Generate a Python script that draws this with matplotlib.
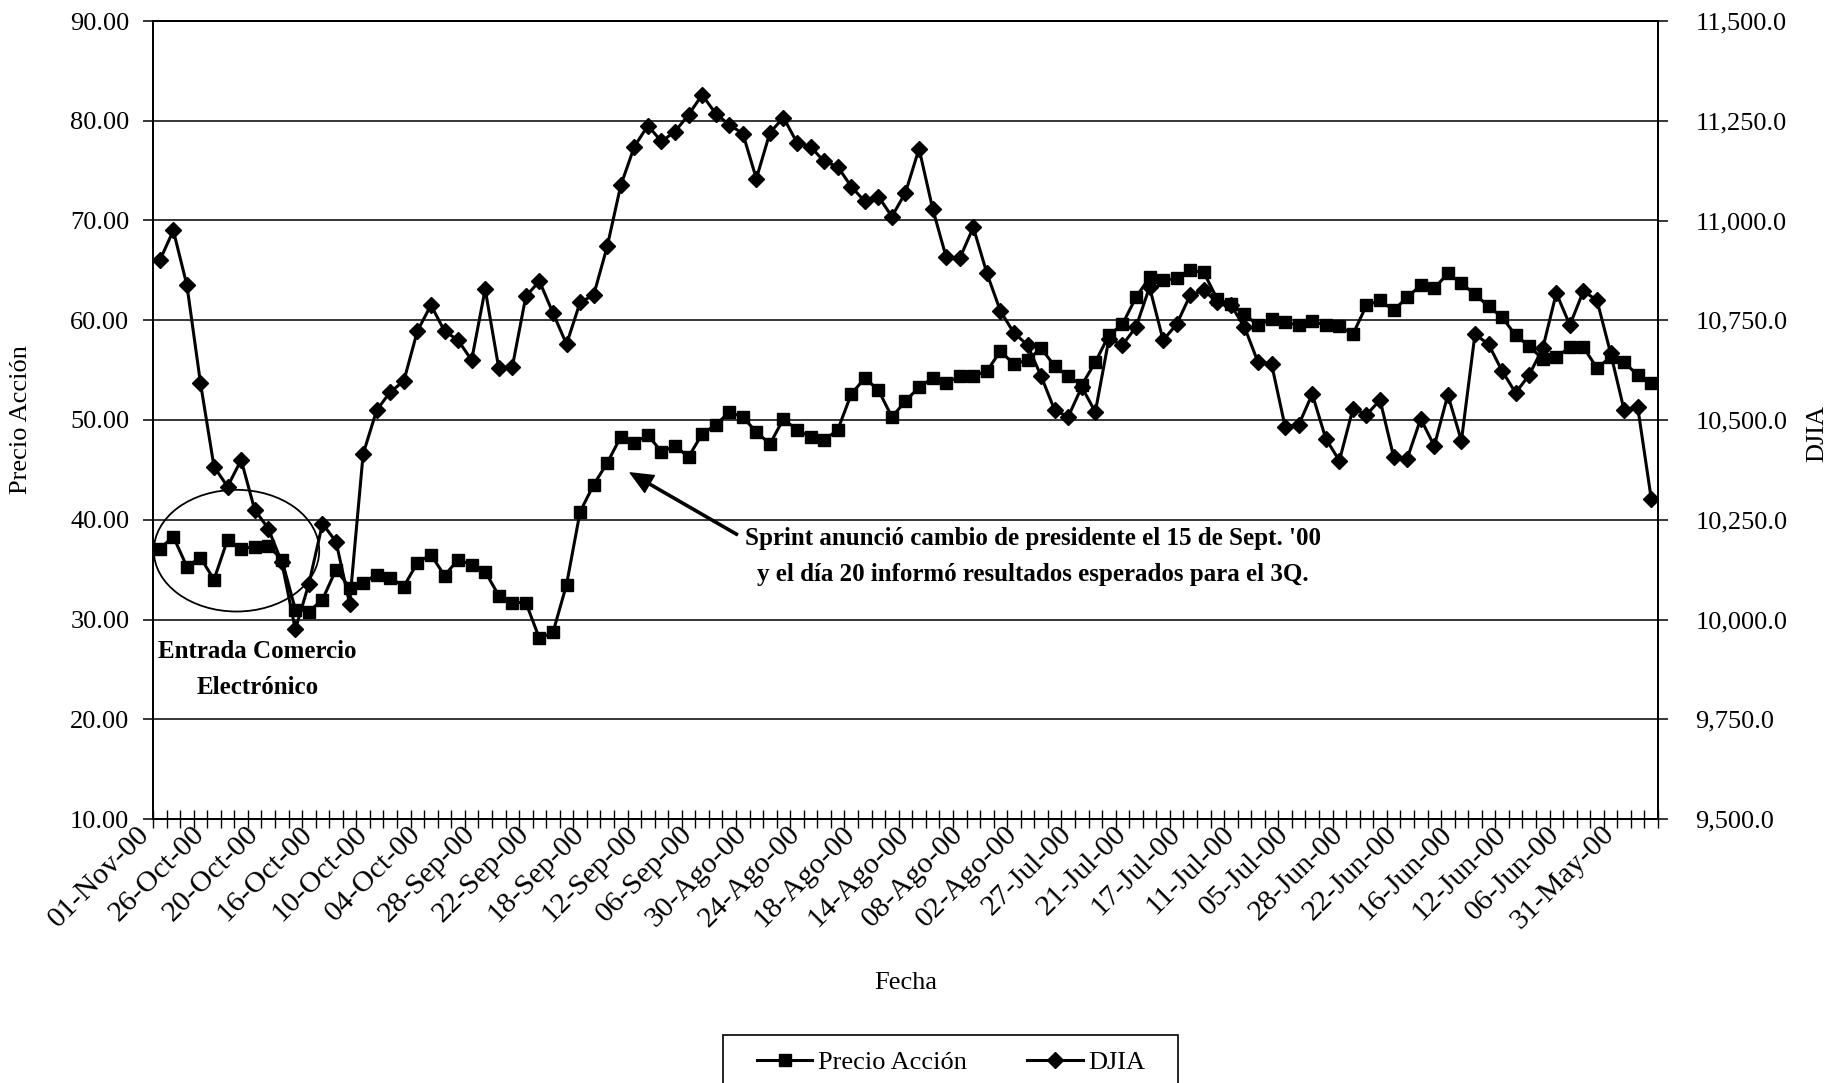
import numpy as np
import matplotlib
matplotlib.use("Agg")
import matplotlib.pyplot as plt
from matplotlib.patches import Ellipse, Rectangle
from matplotlib.lines import Line2D
from matplotlib.transforms import ScaledTranslation

plt.rcParams["font.family"] = ["Liberation Serif", "DejaVu Serif"]

# sesiones (de la más reciente a la más antigua), rotuladas cada 4
etiquetas = ["01-Nov-00", "26-Oct-00", "20-Oct-00", "16-Oct-00", "10-Oct-00",
             "04-Oct-00", "28-Sep-00", "22-Sep-00", "18-Sep-00", "12-Sep-00",
             "06-Sep-00", "30-Ago-00", "24-Ago-00", "18-Ago-00", "14-Ago-00",
             "08-Ago-00", "02-Ago-00", "27-Jul-00", "21-Jul-00", "17-Jul-00",
             "11-Jul-00", "05-Jul-00", "28-Jun-00", "22-Jun-00", "16-Jun-00",
             "12-Jun-00", "06-Jun-00", "31-May-00"]
paso = 4

precio = [37.1, 38.3, 35.3, 36.2, 34.0, 38.0, 37.1, 37.3, 37.4, 36.0,
          31.0, 30.8, 32.0, 35.0, 33.2, 33.7, 34.5, 34.2, 33.3, 35.7,
          36.5, 34.4, 36.0, 35.5, 34.8, 32.4, 31.7, 31.7, 28.1, 28.7,
          33.5, 40.8, 43.5, 45.7, 48.3, 47.7, 48.5, 46.8, 47.4, 46.3,
          48.6, 49.5, 50.8, 50.3, 48.8, 47.6, 50.1, 49.0, 48.3, 48.0,
          49.0, 52.6, 54.2, 53.0, 50.3, 51.9, 53.3, 54.2, 53.7, 54.4,
          54.4, 54.9, 56.9, 55.6, 56.0, 57.2, 55.4, 54.4, 53.5, 55.8,
          58.5, 59.6, 62.3, 64.3, 64.0, 64.2, 65.0, 64.8, 62.1, 61.6,
          60.6, 59.5, 60.1, 59.8, 59.5, 59.9, 59.5, 59.4, 58.6, 61.5,
          62.0, 61.0, 62.3, 63.5, 63.2, 64.7, 63.7, 62.6, 61.4, 60.3,
          58.5, 57.4, 56.1, 56.3, 57.3, 57.3, 55.2, 56.3, 55.8, 54.5,
          53.7]

djia = [10900, 10975, 10838, 10593, 10383, 10333, 10400, 10275, 10228, 10143,
        9975, 10090, 10240, 10195, 10040, 10415, 10525, 10570, 10598, 10723,
        10788, 10723, 10700, 10650, 10828, 10630, 10633, 10810, 10848, 10768,
        10690, 10795, 10813, 10935, 11088, 11185, 11238, 11198, 11223, 11265,
        11315, 11268, 11240, 11218, 11105, 11220, 11258, 11195, 11185, 11148,
        11135, 11085, 11048, 11060, 11010, 11070, 11180, 11030, 10908, 10905,
        10983, 10868, 10773, 10718, 10688, 10610, 10525, 10508, 10583, 10520,
        10703, 10688, 10733, 10833, 10700, 10740, 10813, 10825, 10795, 10788,
        10733, 10645, 10640, 10483, 10488, 10565, 10453, 10398, 10528, 10513,
        10550, 10408, 10403, 10503, 10435, 10563, 10448, 10715, 10690, 10623,
        10568, 10613, 10680, 10818, 10738, 10823, 10800, 10668, 10525, 10533,
        10303]

W, H = 1831, 1083
FS = 19
n = len(precio)
x = np.arange(n)

fig = plt.figure(figsize=(W / 100, H / 100), dpi=100)
fig.patch.set_facecolor("white")
ax = fig.add_axes([153 / W, 1 - 819 / H, (1658 - 153) / W, (819 - 21) / H])
ax2 = ax.twinx()

ax.plot(x, precio, color="black", lw=2.2, marker="s", ms=8.5, zorder=3)
ax2.plot(x, djia, color="black", lw=2.2, marker="D", ms=8.5, zorder=3)

ax.set_xlim(-0.5, n - 0.5)
ax.set_ylim(10, 90)
ax2.set_ylim(9500, 11500)

ax.set_yticks(np.arange(10, 91, 10))
ax.set_yticklabels([f"{v:.2f}" for v in np.arange(10, 91, 10)])
ax2.set_yticks(np.arange(9500, 11501, 250))
ax2.set_yticklabels([f"{v:,.1f}" for v in np.arange(9500, 11501, 250)])
ax.yaxis.grid(True, color="black", lw=1.1)
ax.set_axisbelow(True)

ax.set_xticks(x[::paso])
ax.set_xticklabels(etiquetas)
ax.set_xticks(np.arange(-0.5, n, 1), minor=True)
ax.tick_params(axis="x", which="major", length=0, pad=8, labelsize=21.5)
ax.tick_params(axis="x", which="minor", direction="inout", length=13, width=1)
plt.setp(ax.get_xticklabels(), rotation=45, rotation_mode="anchor",
         ha="right", va="center")
for lbl in ax.get_xticklabels():
    lbl.set_transform(lbl.get_transform() +
                      ScaledTranslation(-10 / 72, 0, fig.dpi_scale_trans))

ax.tick_params(axis="y", direction="out", length=7, width=1.1, pad=10, labelsize=FS)
ax2.tick_params(axis="y", direction="out", length=7, width=1.1, pad=20, labelsize=FS)
for a in (ax, ax2):
    for s in a.spines.values():
        s.set_linewidth(1.3)

ax.set_xlabel("Fecha", fontsize=FS)
ax.xaxis.set_label_coords(0.5, (819 - 972) / (819 - 21))
fig.text(21 / W, 1 - 420 / H, "Precio Acción", rotation=90,
         ha="center", va="center", fontsize=FS)
fig.text(1817 / W, 1 - 434 / H, "DJIA", rotation=90,
         ha="center", va="center", fontsize=FS)

# notas sobre el gráfico
ax.add_patch(Ellipse((5.66, 36.9), 12.2, 12.2, fill=False,
                     edgecolor="black", lw=1.3, zorder=4))
ax.text(7.2, 25.0, "Entrada Comercio\nElectrónico", ha="center", va="center",
        fontsize=18, fontweight="bold", linespacing=1.7, zorder=5)
ax.text(64.4, 36.3,
        "Sprint anunció cambio de presidente el 15 de Sept. '00\n"
        "y el día 20 informó resultados esperados para el 3Q.",
        ha="center", va="center", fontsize=18, fontweight="bold",
        linespacing=1.75, zorder=5)
ax.annotate("", xy=(34.7, 44.7), xytext=(42.6, 38.5),
            arrowprops=dict(facecolor="black", edgecolor="black", width=1.6,
                            headwidth=14, headlength=16, shrink=0))

# leyenda con marco propio, cortado por el borde inferior
handles = [Line2D([], [], color="black", lw=2.2, marker="s", ms=8.5),
           Line2D([], [], color="black", lw=2.2, marker="D", ms=8.5)]
fig.legend(handles, ["Precio Acción", "DJIA"], loc="center left",
           bbox_to_anchor=(757 / W, 1 - 1062 / H), ncol=2, frameon=False,
           fontsize=FS, borderpad=0, borderaxespad=0, handlelength=2.1,
           handletextpad=0.2, columnspacing=2.3)
fig.patches.append(Rectangle((723 / W, 1 - 1110 / H), 455 / W, 75 / H,
                             transform=fig.transFigure, fill=False,
                             edgecolor="black", lw=1.2))

fig.savefig("out.png", dpi=100, facecolor="white")
